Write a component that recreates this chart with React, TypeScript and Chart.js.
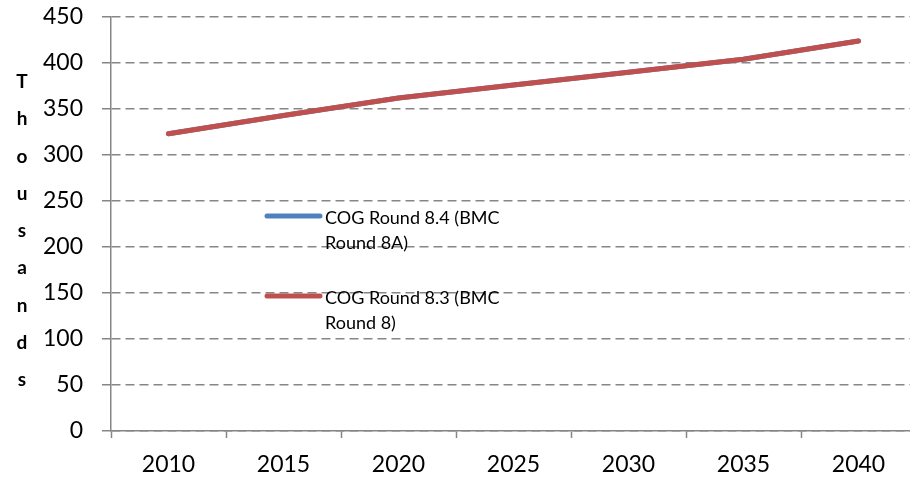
import React, { useEffect, useRef } from "react";
import { Chart, registerables } from "chart.js";

Chart.register(...registerables);

const categories = ["2010", "2015", "2020", "2025", "2030", "2035", "2040"];
const round84 = [323, 343, 362, 376, 390, 404, 424];
const round83 = [323, 343, 362, 376, 390, 404, 424];
const label84 = ["COG Round 8.4 (BMC", "Round 8A)"];
const label83 = ["COG Round 8.3 (BMC", "Round 8)"];
const yTitle = "Thousands";
const yMin = 0;
const yMax = 450;
const yStep = 50;

const FONT = "Lato, 'Open Sans', sans-serif";
const GRAY = "#868686";
const BLUE = "#4F81BD";
const RED = "#C0504D";

const titlePlugin = {
  id: "stackedTitle",
  afterDraw(chart: any) {
    const { ctx, chartArea } = chart;
    const letters = yTitle.split("");
    const step = 37.3;
    const mid = (chartArea.top + chartArea.bottom) / 2 + 7;
    const start = mid - (step * (letters.length - 1)) / 2;
    ctx.save();
    ctx.font = `bold 19px ${FONT}`;
    ctx.fillStyle = "#000";
    ctx.textAlign = "center";
    ctx.textBaseline = "middle";
    letters.forEach((l, i) => ctx.fillText(l, 22, start + i * step));
    ctx.restore();
  },
};

const legendPlugin = {
  id: "innerLegend",
  afterDraw(chart: any) {
    const { ctx, chartArea } = chart;
    const entries = [
      { lines: label84, color: BLUE, y: chartArea.top + 199 },
      { lines: label83, color: RED, y: chartArea.top + 279 },
    ];
    ctx.save();
    entries.forEach((e) => {
      ctx.strokeStyle = e.color;
      ctx.lineWidth = 5;
      ctx.lineCap = "round";
      ctx.beginPath();
      ctx.moveTo(chartArea.left + 156, e.y);
      ctx.lineTo(chartArea.left + 209, e.y);
      ctx.stroke();
      ctx.font = `18px ${FONT}`;
      ctx.fillStyle = "#000";
      ctx.textAlign = "left";
      ctx.textBaseline = "middle";
      e.lines.forEach((t, i) => ctx.fillText(t, chartArea.left + 214, e.y + 2 + i * 25));
    });
    ctx.restore();
  },
};

export default function App() {
  const ref = useRef<HTMLCanvasElement>(null);
  useEffect(() => {
    if (!ref.current) return;
    const chart = new Chart(ref.current, {
      type: "line",
      data: {
        labels: categories,
        datasets: [
          {
            label: label84.join(" "),
            data: round84,
            borderColor: BLUE,
            backgroundColor: BLUE,
            borderWidth: 5,
            pointRadius: 0,
            tension: 0,
            borderCapStyle: "round",
            order: 2,
          },
          {
            label: label83.join(" "),
            data: round83,
            borderColor: RED,
            backgroundColor: RED,
            borderWidth: 5,
            pointRadius: 0,
            tension: 0,
            borderCapStyle: "round",
            order: 1,
          },
        ],
      },
      options: {
        animation: false,
        responsive: false,
        maintainAspectRatio: false,
        layout: { padding: { top: 17, right: 0, left: 0, bottom: 0 } },
        plugins: { legend: { display: false }, tooltip: { enabled: false } },
        scales: {
          x: {
            type: "category",
            offset: true,
            grid: {
              display: true,
              drawOnChartArea: false,
              drawTicks: true,
              tickLength: 7,
              tickColor: GRAY,
              tickWidth: 1.5,
              offset: true,
            },
            border: { display: true, color: GRAY, width: 1.5 },
            ticks: {
              color: "#000",
              font: { family: FONT, size: 23 },
              padding: 13,
              maxRotation: 0,
              autoSkip: false,
            },
            afterFit(scale: any) {
              scale.height = 48;
              scale.paddingLeft = 0;
              scale.paddingRight = 0;
            },
          },
          y: {
            min: yMin,
            max: yMax,
            grid: {
              display: true,
              color: GRAY,
              lineWidth: 1.5,
              drawTicks: true,
              tickLength: 9,
              tickColor: GRAY,
              tickWidth: 1.5,
              tickBorderDash: [],
            },
            border: { display: true, color: GRAY, width: 1.5, dash: [9, 5] },
            ticks: {
              stepSize: yStep,
              color: "#000",
              font: { family: FONT, size: 23 },
              padding: 19,
            },
            afterFit(scale: any) {
              scale.width = 111;
              scale.paddingTop = 0;
              scale.paddingBottom = 0;
            },
          },
        },
      },
      plugins: [titlePlugin, legendPlugin],
    });
    return () => chart.destroy();
  }, []);
  return (
    <div style={{ position: "fixed", left: 0, top: 0, width: 910, height: 479, overflow: "hidden", background: "#fff" }}>
      <canvas ref={ref} width={916} height={479} style={{ display: "block" }} />
    </div>
  );
}
